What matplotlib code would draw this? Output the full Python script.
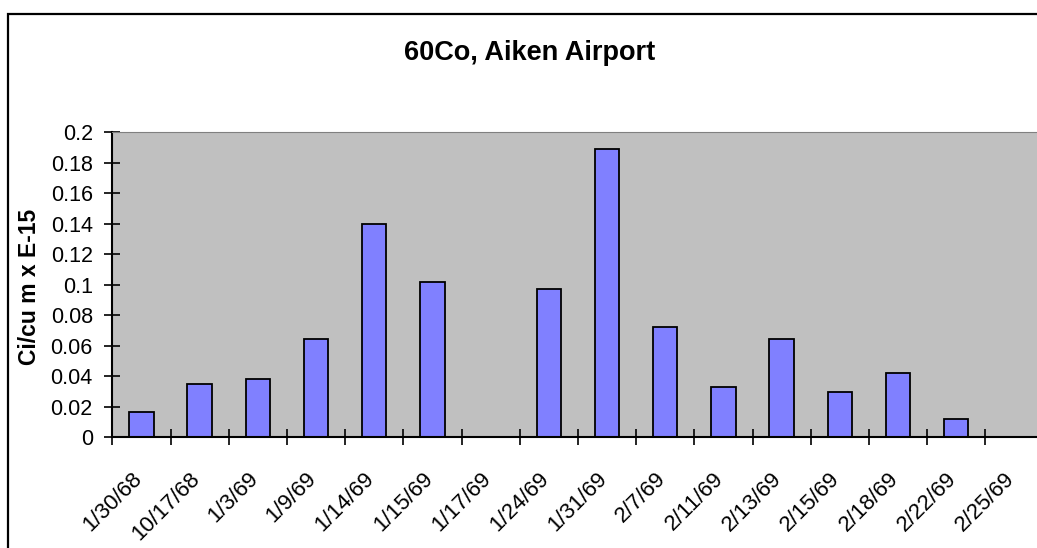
import matplotlib
matplotlib.use("Agg")
import matplotlib.pyplot as plt
from matplotlib.patches import Rectangle
from matplotlib.transforms import ScaledTranslation
import numpy as np

# sample dates and 60Co concentration
dates = ["1/30/68", "10/17/68", "1/3/69", "1/9/69", "1/14/69", "1/15/69",
         "1/17/69", "1/24/69", "1/31/69", "2/7/69", "2/11/69", "2/13/69",
         "2/15/69", "2/18/69", "2/22/69", "2/25/69"]
co60 = [0.0168, 0.0347, 0.038, 0.0646, 0.14, 0.102,
        0.0, 0.0972, 0.189, 0.0725, 0.0332, 0.0647,
        0.0299, 0.0424, 0.0122, 0.0]
yticks = ['0', '0.02', '0.04', '0.06', '0.08', '0.1', '0.12',
          '0.14', '0.16', '0.18', '0.2']

plt.rcParams['font.family'] = ['Liberation Sans', 'DejaVu Sans']

W, H = 1037, 548
fig = plt.figure(figsize=(W / 100, H / 100), dpi=100)

# chart area border (cut off at right and bottom like the source)
fig.patches.append(Rectangle((8 / W, -0.05), 1.1, 1 - 14 / H + 0.05,
                             transform=fig.transFigure, fill=False,
                             edgecolor='black', linewidth=1.6))

left, right = 112.3, 1043.5
top, bottom = 132.2, 437.3
ax = fig.add_axes([left / W, 1 - bottom / H, (right - left) / W, (bottom - top) / H])
ax.set_facecolor('#c0c0c0')

x = np.arange(len(dates))
ax.bar(x, co60, width=0.42, color='#8080ff', edgecolor='black', linewidth=1.3)

ax.set_xlim(-0.5, len(dates) - 0.5)
ax.set_ylim(0, 0.2)
ax.set_yticks(np.arange(0, 0.201, 0.02))
ax.set_yticklabels(yticks, fontsize=15.5)
ax.set_xticks(np.arange(-0.5, len(dates)))
ax.set_xticklabels([])
ax.tick_params(axis='x', direction='inout', length=11, width=1.2)
ax.tick_params(axis='y', direction='inout', length=11, width=1.2, pad=8.5)

# date labels, slanted, ending at each category centre
lab_trans = ax.get_xaxis_transform() + ScaledTranslation(-3 / 100, -38 / 100, fig.dpi_scale_trans)
for xi, d in zip(x, dates):
    ax.text(xi, 0, d, transform=lab_trans, rotation=45, ha='right', va='center',
            rotation_mode='anchor', fontsize=16, clip_on=False)

for s in ['left', 'bottom']:
    ax.spines[s].set_linewidth(1.5)
for s in ['top', 'right']:
    ax.spines[s].set_color('#808080')

ax.set_ylabel('Ci/cu m x E-15', fontsize=16.5, fontweight='bold')
ax.yaxis.set_label_coords(41 / W, 1 - 287 / H, transform=fig.transFigure)
fig.text(530 / W, 1 - 53 / H, '60Co, Aiken Airport', ha='center', va='center',
         fontsize=19.5, fontweight='bold')

fig.savefig('out.png', dpi=100)
